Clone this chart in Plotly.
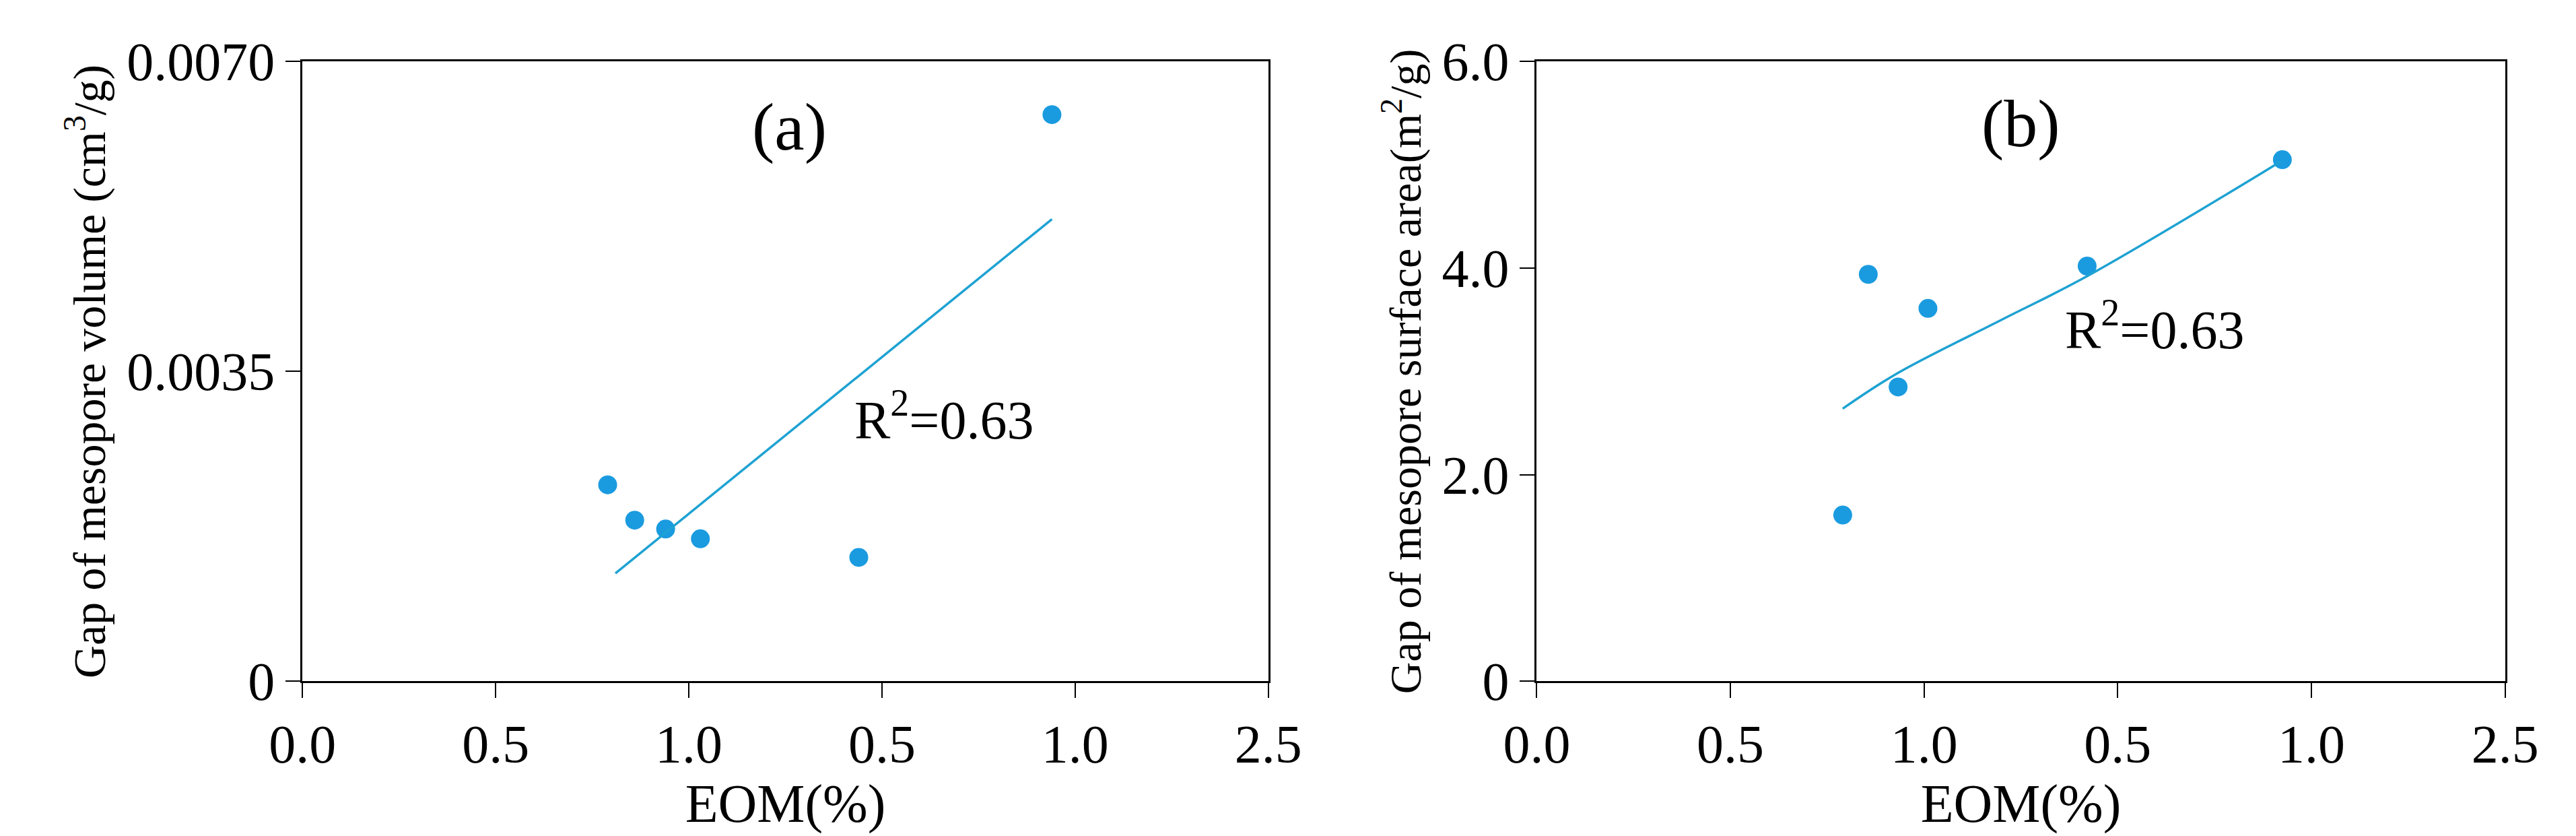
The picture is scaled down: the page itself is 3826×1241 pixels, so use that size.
import plotly.graph_objects as go

# panel (a): mesopore volume gap
eom_a = [0.79, 0.86, 0.94, 1.03, 1.44, 1.94]
vol_a = [0.00222, 0.00182, 0.00172, 0.00161, 0.00140, 0.00640]
fit_a_x = [0.81, 1.94]
fit_a_y = [0.00122, 0.00522]

# panel (b): mesopore surface area gap
eom_b = [0.79, 0.856, 0.933, 1.01, 1.421, 1.925]
area_b = [1.61, 3.94, 2.85, 3.61, 4.02, 5.05]
fit_b_x = [0.79, 0.93, 1.2, 1.42, 1.92]
fit_b_y = [2.64, 2.98, 3.5, 3.92, 5.03]

x_ticks = [0, 0.5, 1.0, 1.5, 2.0, 2.5]
x_ticktext = ["0.0", "0.5", "1.0", "0.5", "1.0", "2.5"]

FONT = "Liberation Serif"
DOT = "#1a9be0"
LINE = "#1ea2d2"

fig = go.Figure()
fig.add_trace(go.Scatter(x=eom_a, y=vol_a, mode="markers", marker=dict(color=DOT, size=28), xaxis="x", yaxis="y"))
fig.add_trace(go.Scatter(x=fit_a_x, y=fit_a_y, mode="lines", line=dict(color=LINE, width=3.5), xaxis="x", yaxis="y"))
fig.add_trace(go.Scatter(x=eom_b, y=area_b, mode="markers", marker=dict(color=DOT, size=28), xaxis="x2", yaxis="y2"))
fig.add_trace(go.Scatter(x=fit_b_x, y=fit_b_y, mode="lines", line=dict(color=LINE, width=3.5, shape="spline"), xaxis="x2", yaxis="y2"))

ax = dict(showline=True, linecolor="black", linewidth=3, mirror=True, ticks="outside", ticklen=22,
          tickwidth=2, tickcolor="black", showgrid=False, zeroline=False,
          tickfont=dict(family=FONT, size=80, color="black"))
fig.update_layout(
    width=3826, height=1241, showlegend=False,
    plot_bgcolor="white", paper_bgcolor="white",
    margin=dict(l=0, r=0, t=0, b=0),
    font=dict(family=FONT, color="black"),
    xaxis=dict(ax, domain=[0.105, 0.49], range=[0, 2.5], tickvals=x_ticks, ticktext=x_ticktext,
               title=dict(text="EOM(%)", font=dict(size=80), standoff=2), anchor="y"),
    yaxis=dict(ax, domain=[0.167, 0.965], range=[0, 0.007], tickvals=[0, 0.0035, 0.007],
               ticktext=["0", "0.0035", "0.0070"],
               title=dict(text="Gap of mesopore volume (cm<sup>3</sup>/g)", font=dict(size=68), standoff=10), anchor="x"),
    xaxis2=dict(ax, domain=[0.597, 0.983], range=[0, 2.5], tickvals=x_ticks, ticktext=x_ticktext,
                title=dict(text="EOM(%)", font=dict(size=80), standoff=2), anchor="y2"),
    yaxis2=dict(ax, domain=[0.167, 0.965], range=[0, 6], tickvals=[0, 2, 4, 6],
                ticktext=["0", "2.0", "4.0", "6.0"],
                title=dict(text="Gap of mesopore surface area(m<sup>2</sup>/g)", font=dict(size=66), standoff=10), anchor="x2"),
)
ann = [("x", "y", 1.26, 0.00626, "(a)", 100), ("x", "y", 1.66, 0.0030, "R<sup>2</sup>=0.63", 80),
       ("x2", "y2", 1.25, 5.4, "(b)", 100), ("x2", "y2", 1.595, 3.44, "R<sup>2</sup>=0.63", 80)]
for xr, yr, x, y, t, s in ann:
    fig.add_annotation(xref=xr, yref=yr, x=x, y=y, text=t, showarrow=False, font=dict(family=FONT, size=s, color="black"))

fig.write_html("out.html")
